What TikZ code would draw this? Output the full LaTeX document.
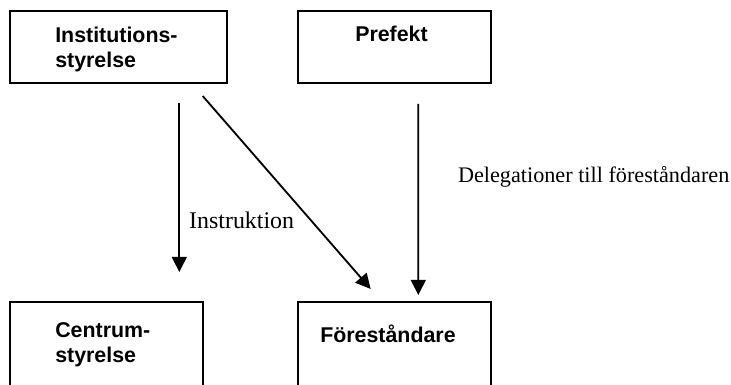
\documentclass[tikz,border=0pt]{standalone}
\usepackage{fontspec}
\setmainfont{Liberation Serif}
\setsansfont{Liberation Sans}
\usepackage{tikz}
\usetikzlibrary{positioning}
\usetikzlibrary{arrows.meta}

\begin{document}
\begin{tikzpicture}[
			     box/.style={draw, line width=1.4pt, inner sep=0pt, outer sep=0pt},
			     boxtext/.style={inner sep=0pt, align=left, font=\sffamily\bfseries\fontsize{15.2pt}{17.8pt}\selectfont},
			     descr/.style={inner sep=0pt, font=\fontsize{17pt}{20pt}\selectfont},
			     arrow line/.style={-{Triangle[width=0.37cm,length=0.375cm]}, line width=1.3pt}
			     ]
\useasboundingbox (0,0) rectangle (18.275,-9.625);
\clip (0,0) rectangle (18.275,-9.625);
%
\node[box, minimum width=5.425cm, minimum height=1.8cm] (inst) at (2.9625,-1.175) {};
\node[box, minimum width=4.825cm, minimum height=1.8cm, right=1.775cm of inst] (pref) {};
\node[box, minimum width=4.825cm, minimum height=2.5cm, below right=5.475cm and 0cm of inst.south west] (centrum) {};
\node[box, minimum width=4.825cm, minimum height=2.5cm, right=2.375cm of centrum] (forest) {};
%
\node[boxtext, below right=0.4cm and 1.125cm of inst.north west] (insttext) {Institutions-\\styrelse};
\node[boxtext, anchor=base west] (preftext) at ([shift={(1.425,-0.775)}]pref.north west) {Prefekt};
\node[boxtext, below right=0.5cm and 1.125cm of centrum.north west] (centrumtext) {Centrum-\\styrelse};
\node[boxtext, anchor=base west] (foresttext) at ([shift={(0.55,-1.0175)}]forest.north west) {Föreståndare};
%
\path ([xshift=1.52cm,yshift=-0.5cm]inst.south) edge[arrow line] node[descr, pos=0.74, anchor=base west, xshift=0.225cm] {Instruktion} ([xshift=1.82cm,yshift=0.75cm]centrum.north);
\path ([xshift=-0.6075cm,yshift=-0.325cm]inst.south east) edge[arrow line] ([xshift=1.8175cm,yshift=0.325cm]forest.north west);
\path ([xshift=0.595cm,yshift=-0.525cm]pref.south) edge[arrow line] node[descr, font=\fontsize{15.8pt}{18pt}\selectfont, pos=0.412, anchor=base west, xshift=0.97cm] {Delegationer till föreståndaren} ([xshift=0.595cm,yshift=0.175cm]forest.north);
\end{tikzpicture}
\end{document}
